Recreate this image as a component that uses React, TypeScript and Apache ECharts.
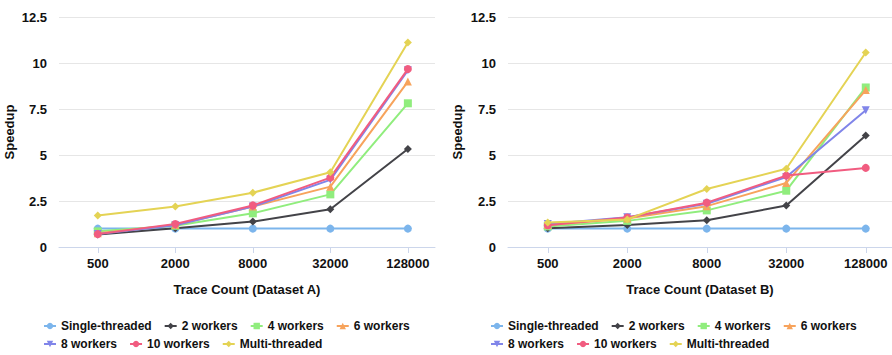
import React, { useEffect, useRef } from "react";
import * as echarts from "echarts";

const categories = ["500", "2000", "8000", "32000", "128000"];
const seriesNames = [
  "Single-threaded",
  "2 workers",
  "4 workers",
  "6 workers",
  "8 workers",
  "10 workers",
  "Multi-threaded",
];
const colors = ["#7cb5ec", "#434348", "#90ed7d", "#f7a35c", "#8085e9", "#f15c80", "#e4d354"];
const symbols = ["circle", "diamond", "rect", "triangle", "triangle", "circle", "diamond"];
const symbolRotations = [0, 0, 0, 0, 180, 0, 0];
const yTicks = [0, 2.5, 5, 7.5, 10, 12.5];

// Dataset A
const aSingle = [1, 1, 1, 1, 1];
const a2 = [0.68, 1.02, 1.38, 2.05, 5.33];
const a4 = [0.85, 1.15, 1.83, 2.86, 7.81];
const a6 = [0.75, 1.2, 2.2, 3.28, 8.99];
const a8 = [0.7, 1.18, 2.2, 3.65, 9.6];
const a10 = [0.7, 1.25, 2.26, 3.77, 9.67];
const aMulti = [1.71, 2.2, 2.95, 4.06, 11.12];

// Dataset B
const bSingle = [1, 1, 1, 1, 1];
const b2 = [1.02, 1.2, 1.45, 2.25, 6.06];
const b4 = [1.12, 1.42, 1.99, 3.06, 8.67];
const b6 = [1.2, 1.55, 2.22, 3.48, 8.53];
const b8 = [1.25, 1.62, 2.35, 3.8, 7.43];
const b10 = [1.18, 1.6, 2.41, 3.88, 4.3];
const bMulti = [1.33, 1.5, 3.15, 4.25, 10.57];

const datasetA = [aSingle, a2, a4, a6, a8, a10, aMulti];
const datasetB = [bSingle, b2, b4, b6, b8, b10, bMulti];

const FONT = "'Liberation Sans', Arial, sans-serif";
const TEXT = "#111";

export default function App() {
  const ref = useRef<HTMLDivElement>(null);

  useEffect(() => {
    if (!ref.current) return;
    const chart = echarts.init(ref.current, null, { renderer: "svg" });
    const idx = categories.map((_, i) => i);

    const xAxisCommon = (name: string, gridIndex: number, max: number) => ({
      type: "value",
      gridIndex,
      min: -0.5,
      max,
      name,
      nameLocation: "middle",
      nameGap: 36,
      nameTextStyle: { fontFamily: FONT, fontSize: 13, fontWeight: "bold", color: TEXT },
      axisLine: { show: true, lineStyle: { color: "#ccd6eb", width: 1 } },
      axisTick: { show: true, length: 6, lineStyle: { color: "#ccd6eb" }, customValues: idx },
      axisLabel: {
        customValues: idx,
        margin: 10,
        fontFamily: FONT,
        fontSize: 13,
        fontWeight: "bold",
        color: TEXT,
        formatter: (v: number) => categories[Math.round(v)] ?? "",
      },
      splitLine: { show: false },
    });

    const yAxisCommon = (gridIndex: number, nameGap: number) => ({
      type: "value",
      gridIndex,
      min: yTicks[0],
      max: yTicks[yTicks.length - 1],
      interval: yTicks[1] - yTicks[0],
      name: "Speedup",
      nameLocation: "middle",
      nameRotate: 90,
      nameGap,
      nameTextStyle: { fontFamily: FONT, fontSize: 13, fontWeight: "bold", color: TEXT },
      axisLine: { show: false },
      axisTick: { show: false },
      axisLabel: { margin: 12, fontFamily: FONT, fontSize: 13, fontWeight: "bold", color: TEXT },
      splitLine: { show: true, lineStyle: { color: "#e6e6e6", width: 1 } },
    });

    const makeSeries = (data: number[][], axisIndex: number) =>
      seriesNames.map((name, s) => ({
        type: "line",
        name,
        xAxisIndex: axisIndex,
        yAxisIndex: axisIndex,
        data: data[s].map((v, i) => [i, v]),
        symbol: symbols[s],
        symbolRotate: symbolRotations[s],
        symbolSize: 8,
        showAllSymbol: true,
        lineStyle: { width: 2, color: colors[s] },
        itemStyle: { color: colors[s] },
        emphasis: { disabled: true },
        z: 2 + s,
      }));

    const legendCommon = {
      itemWidth: 12,
      itemHeight: 8,
      itemGap: 12,
      padding: 0,
      textStyle: { fontFamily: FONT, fontSize: 12, fontWeight: "bold", color: TEXT },
      selectedMode: false,
      orient: "horizontal",
    };
    const row1 = seriesNames.slice(0, 4);
    const row2 = seriesNames.slice(4);

    chart.setOption({
      animation: false,
      color: colors,
      grid: [
        { left: 59, right: 892 - 435, top: 17, height: 230, containLabel: false },
        { left: 508, right: 0, top: 17, height: 230, containLabel: false },
      ],
      xAxis: [
        xAxisCommon("Trace Count (Dataset A)", 0, 4.35),
        xAxisCommon("Trace Count (Dataset B)", 1, 4.33),
      ],
      yAxis: [yAxisCommon(0, 43), yAxisCommon(1, 44)],
      legend: [
        { ...legendCommon, data: row1, left: 43, top: 320 },
        { ...legendCommon, data: row2, left: 43, top: 338 },
        { ...legendCommon, data: row1, left: 490, top: 320 },
        { ...legendCommon, data: row2, left: 490, top: 338 },
      ],
      series: [...makeSeries(datasetA, 0), ...makeSeries(datasetB, 1)],
    });

    return () => chart.dispose();
  }, []);

  return (
    <div
      ref={ref}
      style={{ position: "fixed", left: 0, top: 0, width: 892, height: 355, background: "#fff" }}
    />
  );
}
